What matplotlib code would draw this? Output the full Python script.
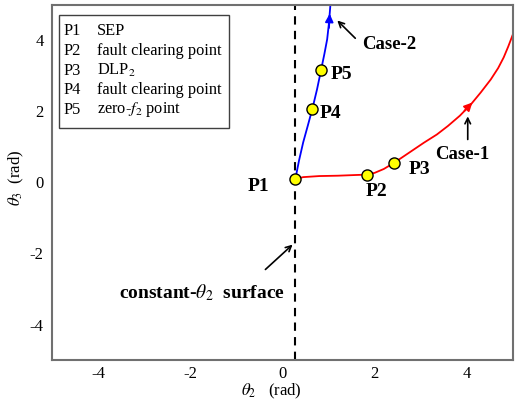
#!/usr/bin/env python3
"""
Trajectories in the (theta2, theta3) plane with the constant-theta2 surface.
"""

import matplotlib
matplotlib.use("Agg")
import matplotlib.pyplot as plt
from matplotlib.patches import Rectangle

plt.rcParams['font.family'] = ['Liberation Serif', 'DejaVu Serif']
plt.rcParams['mathtext.fontset'] = 'stix'
plt.rcParams['axes.unicode_minus'] = False

# Case-1 trajectory (red)
case1_x = [0.28, 0.45, 0.8, 1.2, 1.6, 1.83, 2.0, 2.2, 2.43, 2.75, 3.07, 3.35,
           3.59, 3.85, 4.09, 4.3, 4.52, 4.68, 4.8, 4.9, 5.0]
case1_y = [0.10, 0.15, 0.18, 0.19, 0.21, 0.22, 0.27, 0.38, 0.56, 0.84, 1.12, 1.35,
           1.59, 1.88, 2.20, 2.53, 2.90, 3.22, 3.52, 3.83, 4.17]

# Case-2 trajectory (blue)
case2_x = [0.28, 0.36, 0.45, 0.55, 0.65, 0.75, 0.84, 0.91, 0.97, 1.01, 1.04]
case2_y = [0.10, 0.62, 1.13, 1.60, 2.08, 2.62, 3.18, 3.62, 4.03, 4.50, 5.00]

# constant-theta2 surface
theta2_const = 0.28

# marked points
point_names = ['P1', 'P2', 'P3', 'P4', 'P5']
point_x = [0.28, 1.83, 2.43, 0.65, 0.84]
point_y = [0.10, 0.22, 0.56, 2.08, 3.18]

legend_ids = ['P1', 'P2', 'P3', 'P4', 'P5']
legend_desc = ['SEP', 'fault clearing point', 'DLP$_2$',
               'fault clearing point', 'zero-$f_2$ point']


def create_plot():
    fig = plt.figure(figsize=(5.16, 4.05), dpi=100)
    ax = fig.add_axes([0.1008, 0.111, 0.8932, 0.877])

    ax.axvline(theta2_const, color='black', linestyle=(0, (4, 3)), linewidth=1.5, zorder=1)

    ax.plot(case1_x, case1_y, color='red', linewidth=1.3, zorder=2)
    ax.plot(case2_x, case2_y, color='blue', linewidth=1.3, zorder=2)

    # direction arrows on trajectories
    ax.annotate('', xy=(4.12, 2.25), xytext=(3.95, 2.02),
                arrowprops=dict(arrowstyle='-|>', color='red', lw=1.3,
                                mutation_scale=12, shrinkA=0, shrinkB=0))
    ax.annotate('', xy=(1.025, 4.75), xytext=(1.01, 4.35),
                arrowprops=dict(arrowstyle='-|>', color='blue', lw=1.3,
                                mutation_scale=12, shrinkA=0, shrinkB=0))

    ax.plot(point_x, point_y, linestyle='none', marker='o', markersize=8,
            markerfacecolor='#ffff00', markeredgecolor='black',
            markeredgewidth=1.0, zorder=3)

    label_pos = {'P1': (-0.52, -0.11), 'P2': (2.03, -0.25), 'P3': (2.98, 0.37),
                 'P4': (1.05, 1.94), 'P5': (1.27, 3.04)}
    for name in point_names:
        lx, ly = label_pos[name]
        ax.text(lx, ly, name, fontsize=14, fontweight='bold',
                ha='center', va='center')

    # case labels with pointer arrows
    ax.text(1.73, 3.89, 'Case-2', fontsize=13.5, fontweight='bold',
            ha='left', va='center')
    ax.annotate('', xy=(1.19, 4.56), xytext=(1.58, 4.06),
                arrowprops=dict(arrowstyle='->', color='black', lw=1.2,
                                shrinkA=0, shrinkB=0))
    ax.text(3.91, 0.79, 'Case-1', fontsize=13.5, fontweight='bold',
            ha='center', va='center')
    ax.annotate('', xy=(4.02, 1.86), xytext=(4.02, 1.21),
                arrowprops=dict(arrowstyle='->', color='black', lw=1.2,
                                shrinkA=0, shrinkB=0))
    ax.text(-1.75, -3.1, r'constant-$\theta_2$  surface', fontsize=14,
            fontweight='bold', ha='center', va='center')
    ax.annotate('', xy=(0.22, -1.75), xytext=(-0.37, -2.45),
                arrowprops=dict(arrowstyle='->', color='black', lw=1.2,
                                shrinkA=0, shrinkB=0))

    # legend box
    ax.add_patch(Rectangle((0.015, 0.654), 0.368, 0.318, transform=ax.transAxes,
                           facecolor='white', edgecolor='#404040', linewidth=1.0,
                           zorder=4))
    for i, (pid, desc) in enumerate(zip(legend_ids, legend_desc)):
        y = 0.925 - i * 0.0552
        ax.text(0.024, y, pid, transform=ax.transAxes, fontsize=11.8,
                va='center', ha='left', zorder=5)
        ax.text(0.0976, y, desc, transform=ax.transAxes, fontsize=11.8,
                va='center', ha='left', zorder=5)

    ax.set_xlim(-5, 5)
    ax.set_ylim(-5, 5)
    ax.set_xticks([-4, -2, 0, 2, 4])
    ax.set_yticks([-4, -2, 0, 2, 4])
    ax.tick_params(length=0, labelsize=12)
    ax.tick_params(axis='x', pad=4)
    ax.tick_params(axis='y', pad=6)
    for sp in ax.spines.values():
        sp.set_color('#707070')
        sp.set_linewidth(1.5)

    fig.text(271 / 516, 1 - 391 / 405, r'$\theta_2$   (rad)', fontsize=12,
             ha='center', va='center')
    fig.text(16 / 516, 1 - 178 / 405, r'$\theta_3$  (rad)', fontsize=12,
             ha='center', va='center', rotation=90)

    fig.savefig('out.png', dpi=100)
    plt.close(fig)


if __name__ == '__main__':
    create_plot()
